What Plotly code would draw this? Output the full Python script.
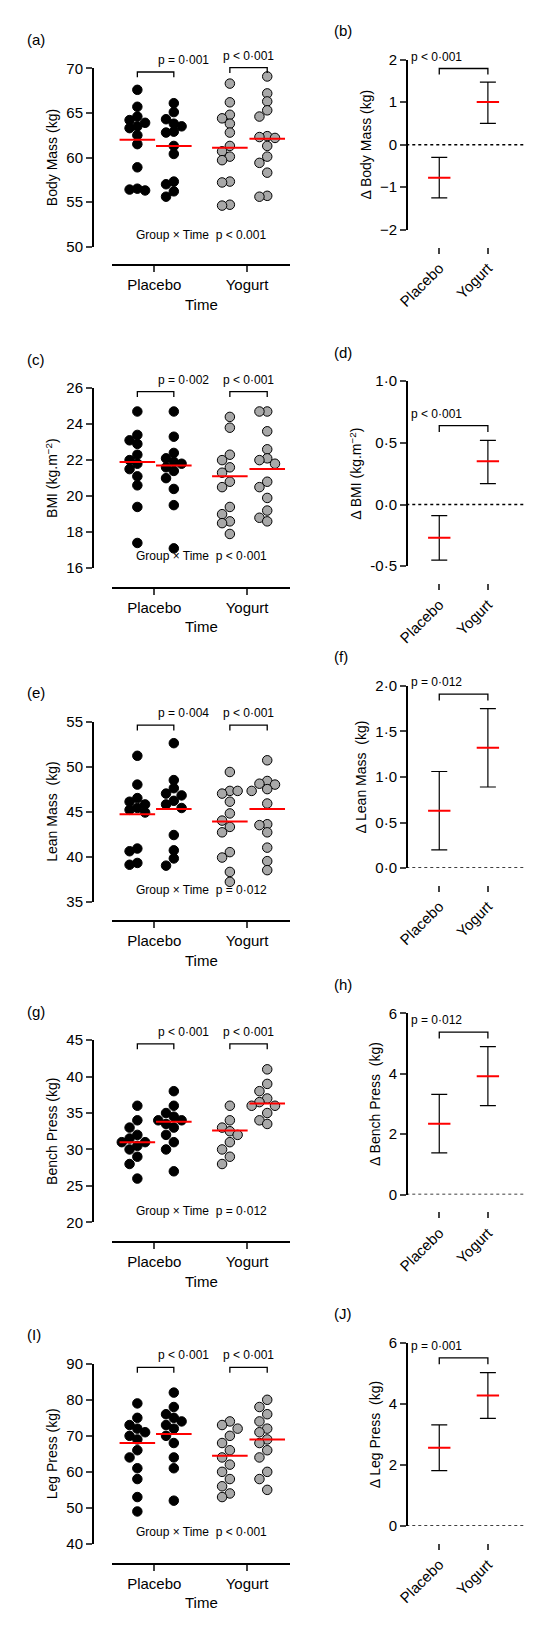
import plotly.graph_objects as go

W, H = 539, 1628
groups = ["Placebo", "Yogurt"]

# Left panels: individual values (pre, post) for each group
bm_pl_pre = [67.6, 65.7, 64.6, 64.2, 63.9, 63.5, 63.3, 62.5, 61.5, 58.9, 56.5, 56.4, 56.3]
bm_pl_post = [66.1, 65.1, 64.3, 63.8, 63.5, 62.9, 62.8, 61.3, 60.4, 57.3, 57.0, 56.2, 55.6]
bm_yo_pre = [68.3, 66.2, 64.8, 64.4, 63.8, 62.8, 61.3, 60.7, 60.1, 59.7, 57.3, 57.2, 54.7, 54.6]
bm_yo_post = [69.1, 67.2, 66.3, 65.3, 64.6, 62.4, 62.3, 62.2, 61.3, 60.1, 59.4, 58.3, 55.7, 55.6]
bm_lines = [62.0, 61.3, 61.1, 62.1]

bmi_pl_pre = [24.7, 23.4, 23.1, 22.9, 22.3, 22.0, 21.8, 21.5, 21.1, 20.6, 19.4, 17.4]
bmi_pl_post = [24.7, 23.3, 22.4, 22.1, 21.9, 21.8, 21.6, 21.4, 21.0, 20.4, 19.5, 17.1]
bmi_yo_pre = [24.4, 23.8, 22.3, 22.0, 21.6, 21.3, 20.8, 20.5, 19.4, 19.0, 18.6, 18.5, 17.9]
bmi_yo_post = [24.7, 24.7, 23.6, 22.6, 22.1, 22.0, 21.8, 20.8, 20.5, 19.9, 19.2, 18.8, 18.6]
bmi_lines = [21.9, 21.7, 21.1, 21.5]

lm_pl_pre = [51.2, 48.0, 46.5, 46.1, 45.8, 45.4, 45.2, 44.9, 40.9, 40.6, 39.3, 39.1]
lm_pl_post = [52.6, 48.5, 47.6, 47.0, 46.8, 46.2, 45.8, 45.4, 42.4, 40.7, 39.8, 39.0]
lm_yo_pre = [49.4, 47.3, 47.0, 47.3, 46.1, 44.8, 44.0, 43.3, 42.7, 40.5, 39.9, 38.3, 37.2]
lm_yo_post = [50.7, 48.4, 48.1, 48.0, 47.5, 47.3, 45.9, 43.6, 43.5, 42.7, 41.0, 39.5, 38.5]
lm_lines = [44.7, 45.3, 43.9, 45.3]

bp_pl_pre = [36, 34, 33, 32, 31.5, 31, 31, 30.5, 30, 29, 28, 26]
bp_pl_post = [38, 36, 35, 34.5, 34, 34, 33.5, 33, 32, 31, 30, 27]
bp_yo_pre = [36, 34, 33, 32.5, 32, 31, 30, 29, 28]
bp_yo_post = [41, 39, 38, 37, 36.5, 36, 36, 35, 34, 33.5]
bp_lines = [31.0, 33.8, 32.6, 36.3]

lp_pl_pre = [79, 75, 73, 72, 71, 70, 69, 66, 64, 61, 58, 53, 49]
lp_pl_post = [82, 78, 76, 75, 74, 73, 72, 70, 68, 64, 61, 52]
lp_yo_pre = [74, 73, 72, 70, 68, 66, 64, 62, 60, 58, 56, 54, 53]
lp_yo_post = [80, 78, 76, 74, 72, 71, 69, 68, 66, 64, 60, 58, 55]
lp_lines = [68.0, 70.5, 64.5, 69.0]

# Right panels: change mean, lower, upper
d_bm = ([-0.78, 1.0], [-1.25, 0.5], [-0.3, 1.47])
d_bmi = ([-0.27, 0.35], [-0.45, 0.17], [-0.09, 0.52])
d_lm = ([0.63, 1.32], [0.2, 0.89], [1.06, 1.75])
d_bp = ([2.35, 3.92], [1.38, 2.95], [3.32, 4.9])
d_lp = ([2.57, 4.28], [1.82, 3.53], [3.32, 5.03])

fig = go.Figure()
shapes, annos = [], []

def fy(px): return 1 - px / H
def fx(px): return px / W

POS = [0.14, 0.345, 0.66, 0.87]
TICKS = [0.235, 0.757]

def swarm(vals, ppu, xw_px):
    placed = []
    offs = []
    d = 8.0
    for v in vals:
        for k in [0, -1, 1, -2, 2, -3, 3]:
            ox = k * d
            ok = all((ox - px) ** 2 + ((v - pv) * ppu) ** 2 >= 7.5 ** 2 for px, pv in placed)
            if ok:
                break
        placed.append((ox, v))
        offs.append(ox / xw_px)
    return offs

left = [
    ("a", [bm_pl_pre, bm_pl_post, bm_yo_pre, bm_yo_post], bm_lines, 52, 232, 251, [50, 70], [50, 55, 60, 65, 70], None,
     "Body Mass (kg)", ["p = 0·001", "p < 0·001"], "Group × Time  p < 0.001"),
    ("c", [bmi_pl_pre, bmi_pl_post, bmi_yo_pre, bmi_yo_post], bmi_lines, 375, 557, 577, [16, 26], [16, 18, 20, 22, 24, 26], None,
     "BMI (kg.m<sup>−2</sup>)", ["p = 0·002", "p < 0·001"], "Group × Time  p < 0·001"),
    ("e", [lm_pl_pre, lm_pl_post, lm_yo_pre, lm_yo_post], lm_lines, 712, 894, 914, [35, 55], [35, 40, 45, 50, 55], None,
     "Lean Mass  (kg)", ["p = 0·004", "p < 0·001"], "Group × Time  p = 0·012"),
    ("g", [bp_pl_pre, bp_pl_post, bp_yo_pre, bp_yo_post], bp_lines, 1034, 1218, 1238, [20, 45], [20, 25, 30, 35, 40, 45], None,
     "Bench Press (kg)", ["p < 0·001", "p < 0·001"], "Group × Time  p = 0·012"),
    ("I", [lp_pl_pre, lp_pl_post, lp_yo_pre, lp_yo_post], lp_lines, 1361, 1543, 1563, [40, 90], [40, 50, 60, 70, 80, 90], None,
     "Leg Press (kg)", ["p < 0·001", "p < 0·001"], "Group × Time  p < 0·001"),
]
right = [
    ("b", d_bm, 43, 215, 232, [-2, 2], [-2, -1, 0, 1, 2], None, "Δ Body Mass (kg)", "p < 0·001"),
    ("d", d_bmi, 368, 555, 572, [-0.5, 1.0], [-0.5, 0, 0.5, 1.0], ["-0·5", "0·0", "0·5", "1·0"], "Δ BMI (kg.m<sup>−2</sup>)", "p < 0·001"),
    ("f", d_lm, 676, 860, 877, [0, 2], [0, 0.5, 1, 1.5, 2], ["0·0", "0·5", "1·0", "1·5", "2·0"], "Δ Lean Mass  (kg)", "p = 0·012"),
    ("h", d_bp, 1007, 1190, 1207, [0, 6], [0, 2, 4, 6], None, "Δ Bench Press  (kg)", "p = 0·012"),
    ("J", d_lp, 1340, 1525, 1542, [0, 6], [0, 2, 4, 6], None, "Δ Leg Press  (kg)", "p = 0·001"),
]

font = dict(family="Liberation Sans, Arial", color="black")

def bracket(xd0, xd1, ytop, ybot, yr, xv0, xv1, yv, drop, text):
    # convert data coords to paper coords (avoid clipping)
    span = yr[1] - yr[0]
    def py(v): return fy(ybot) + (v - yr[0]) / span * (fy(ytop) - fy(ybot))
    def px(v): return fx(xd0) + v * (fx(xd1) - fx(xd0))
    x0, x1, y1, y0 = px(xv0), px(xv1), py(yv), py(yv - drop)
    shapes.append(dict(type="path", xref="paper", yref="paper",
                       path=f"M{x0},{y0} L{x0},{y1} L{x1},{y1} L{x1},{y0}",
                       line=dict(color="black", width=1.3)))
    annos.append(dict(x=(x0 + x1) / 2, y=y1 + 3 / H, xref="paper", yref="paper", text=text, showarrow=False,
                      yanchor="bottom", font=dict(size=12, **font)))

lay = {}
n = 0
for (lab, sets, lines, ytop, ybot, xline, yr, tv, tt, ytitle, ptxt, gtxt) in left:
    n += 1
    xa, ya = f"xaxis{n}", f"yaxis{n}"
    xr, yrf = f"x{n}", f"y{n}"
    ppu = (ybot - ytop) / (yr[1] - yr[0])
    for i, vals in enumerate(sets):
        offs = swarm(vals, ppu, 183)
        fig.add_trace(go.Scatter(x=[POS[i] + o for o in offs], y=vals, mode="markers", xaxis=xr, yaxis=yrf,
                                 cliponaxis=False,
                                 marker=dict(size=9.5, color="black" if i < 2 else "#a8a8a8",
                                             line=dict(color="black", width=1)), showlegend=False))
        shapes.append(dict(type="line", xref=xr, yref=yrf, x0=POS[i] - 0.1, x1=POS[i] + 0.1, y0=lines[i], y1=lines[i],
                           line=dict(color="#ff0000", width=2)))
    span = yr[1] - yr[0]
    for g in range(2):
        bx0, bx1 = POS[2 * g], POS[2 * g + 1]
        top = max(max(sets[2 * g]), max(sets[2 * g + 1]))
        by = min(max(top + 0.05 * span, yr[1] - 0.02 * span), yr[1] + 0.05 * span)
        bracket(92, 275, ytop, ybot, yr, bx0, bx1, by, 0.03 * span, ptxt[g])
    annos.append(dict(x=0.5, y=yr[0] + 0.015 * span, xref=xr, yref=yrf, text=gtxt, showarrow=False, yanchor="bottom",
                      font=dict(size=12, **font)))
    annos.append(dict(x=fx(2), y=fy(ytop - 40), xref="paper", yref="paper", text=f"({lab})", showarrow=False,
                      xanchor="left", yanchor="top", font=dict(size=15, **font)))
    lay[xa] = dict(domain=[fx(92), fx(275)], range=[0, 1], anchor="free", position=fy(xline),
                   tickvals=TICKS, ticktext=groups, showline=True, linecolor="black", linewidth=2,
                   ticks="outside", ticklen=6, tickwidth=2, showgrid=False, zeroline=False,
                   tickfont=dict(size=15, **font), title=dict(text="Time", font=dict(size=15, **font), standoff=6))
    lay[ya] = dict(domain=[fy(ybot), fy(ytop)], range=yr, anchor="free", position=fx(72),
                   tickvals=tv, ticktext=tt, showline=True, linecolor="black", linewidth=2, ticks="outside",
                   ticklen=6, tickwidth=2, showgrid=False, zeroline=False, tickfont=dict(size=15, **font),
                   title=dict(text=ytitle, font=dict(size=14, **font), standoff=4))

RPOS = [0.245, 0.68]
for (lab, dat, ytop, ybot, xline, yr, tv, tt, ytitle, ptxt) in right:
    n += 1
    xa, ya = f"xaxis{n}", f"yaxis{n}"
    xr, yrf = f"x{n}", f"y{n}"
    mean, lo, hi = dat
    fig.add_trace(go.Scatter(x=RPOS, y=mean, mode="markers", xaxis=xr, yaxis=yrf, showlegend=False,
                             marker=dict(size=1, color="rgba(0,0,0,0)"),
                             error_y=dict(type="data", symmetric=False, array=[h - m for h, m in zip(hi, mean)],
                                          arrayminus=[m - l for m, l in zip(mean, lo)], color="black",
                                          thickness=1.2, width=8)))
    span = yr[1] - yr[0]
    for i in range(2):
        shapes.append(dict(type="line", xref=xr, yref=yrf, x0=RPOS[i] - 0.1, x1=RPOS[i] + 0.1, y0=mean[i], y1=mean[i],
                           line=dict(color="#ff0000", width=2)))
    shapes.append(dict(type="line", xref=f"{xr} domain", yref=yrf, x0=-0.05, x1=1, y0=0, y1=0,
                       line=dict(color="black", width=1.5, dash="dot")))
    by = max(hi) + 0.08 * span
    bracket(400, 515, ytop, ybot, yr, RPOS[0], RPOS[1], by, 0.035 * span, ptxt)
    annos.append(dict(x=fx(318), y=fy(ytop - 40), xref="paper", yref="paper", text=f"({lab})", showarrow=False,
                      xanchor="left", yanchor="top", font=dict(size=15, **font)))
    lay[xa] = dict(domain=[fx(400), fx(515)], range=[0, 1], anchor="free", position=fy(xline),
                   tickvals=RPOS, ticktext=groups, tickangle=-45, showline=False, ticks="outside", ticklen=6,
                   tickwidth=2, showgrid=False, zeroline=False, tickfont=dict(size=15, **font))
    lay[ya] = dict(domain=[fy(ybot), fy(ytop)], range=yr, anchor="free", position=fx(395),
                   tickvals=tv, ticktext=tt, showline=True, linecolor="black", linewidth=2, ticks="outside",
                   ticklen=6, tickwidth=2, showgrid=False, zeroline=False, tickfont=dict(size=15, **font),
                   title=dict(text=ytitle, font=dict(size=14, **font), standoff=4))

fig.update_layout(width=W, height=H, margin=dict(l=0, r=0, t=0, b=0), plot_bgcolor="white",
                  paper_bgcolor="white", shapes=shapes, annotations=annos, showlegend=False, **lay)
fig.write_html("out.html")
